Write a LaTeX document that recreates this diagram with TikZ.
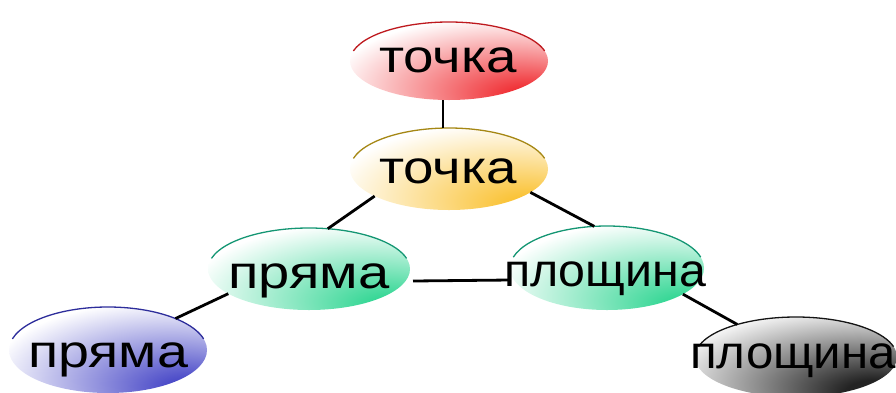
\documentclass[tikz,border=0pt]{standalone}
\usepackage{fontspec}
\setmainfont{Liberation Sans}
\usetikzlibrary{shapes.geometric}
\definecolor{cred}{RGB}{240,50,55}
\definecolor{bred}{RGB}{190,25,30}
\definecolor{cyel}{RGB}{250,195,55}
\definecolor{byel}{RGB}{165,135,20}
\definecolor{cgrn}{RGB}{55,215,150}
\definecolor{bgrn}{RGB}{20,150,115}
\definecolor{cblu}{RGB}{75,75,200}
\definecolor{bblu}{RGB}{45,45,155}
\definecolor{cblk}{RGB}{35,35,35}
\definecolor{bblk}{RGB}{20,20,20}
\pgfdeclareradialshading{redsh}{\pgfpoint{22bp}{-24bp}}{color(0bp)=(cred); color(6bp)=(cred); color(42bp)=(white); color(100bp)=(white)}
\pgfdeclareradialshading{yelsh}{\pgfpoint{22bp}{-24bp}}{color(0bp)=(cyel); color(6bp)=(cyel); color(42bp)=(white); color(100bp)=(white)}
\pgfdeclareradialshading{grnsh}{\pgfpoint{22bp}{-24bp}}{color(0bp)=(cgrn); color(6bp)=(cgrn); color(42bp)=(white); color(100bp)=(white)}
\pgfdeclareradialshading{blush}{\pgfpoint{22bp}{-24bp}}{color(0bp)=(cblu); color(6bp)=(cblu); color(42bp)=(white); color(100bp)=(white)}
\pgfdeclareradialshading{blksh}{\pgfpoint{22bp}{-24bp}}{color(0bp)=(cblk); color(8bp)=(cblk); color(45bp)=(white); color(100bp)=(white)}
\newcommand\bubtop[4]{%
  \draw[#4, line width=1.3pt] (#1.center) ++(165:#2 and #3)
    arc[start angle=165, end angle=15, x radius=#2, y radius=#3];}
\begin{document}
\begin{tikzpicture}[x=1pt,y=-1pt,
  bub/.style={ellipse, inner sep=0pt, outer sep=0pt, shade, shading=#1},
  lbl/.style={font=\fontsize{46}{50}\selectfont, inner sep=0pt, text height=24pt, text depth=0pt, anchor=center},
  link/.style={line width=2.8pt, black}]
\useasboundingbox (0,0) rectangle (896,392);
\node[bub=redsh, minimum width=198pt, minimum height=78pt] (top) at (449,61) {};
\node[bub=yelsh, minimum width=198pt, minimum height=82pt] (mid) at (449,169) {};
\node[bub=grnsh, minimum width=202pt, minimum height=82pt] (left) at (309,269) {};
\node[bub=grnsh, minimum width=194pt, minimum height=84pt] (right) at (607,268) {};
\node[bub=blush, minimum width=198pt, minimum height=86pt] (bl) at (108,350) {};
\node[bub=blksh, minimum width=202pt, minimum height=80pt] (br) at (796,357) {};
\bubtop{top}{99pt}{39pt}{bred}
\bubtop{mid}{99pt}{41pt}{byel}
\bubtop{left}{101pt}{41pt}{bgrn}
\bubtop{right}{97pt}{42pt}{bgrn}
\bubtop{bl}{99pt}{43pt}{bblu}
\bubtop{br}{101pt}{40pt}{bblk}
\node[lbl] (ttop) at (448,60) {\scalebox{1.19}[1]{точка}};
\node[lbl] (tmid) at (448,171) {\scalebox{1.19}[1]{точка}};
\node[lbl] (tleft) at (309,276) {\scalebox{1.22}[1]{пряма}};
\node[lbl] (tright) at (605,274) {\scalebox{1.05}[1]{площина}};
\node[lbl] (tbl) at (108,355) {\scalebox{1.21}[1]{пряма}};
\node[lbl] (tbr) at (793,356) {\scalebox{1.07}[1]{площина}};
\draw[link] ([xshift=-6pt]top.south) -- ([xshift=-6pt]mid.north);
\draw[link] (mid.200) -- (left.65);
\draw[link] (mid.-16) -- (right.107);
\draw[link] ([yshift=-12pt]left.east) ++(3pt,0) -- ([yshift=-12pt]right.west);
\draw[link] (left.197) -- (bl.25);
\draw[link] (right.-19) -- (br.151);
\end{tikzpicture}
\end{document}
